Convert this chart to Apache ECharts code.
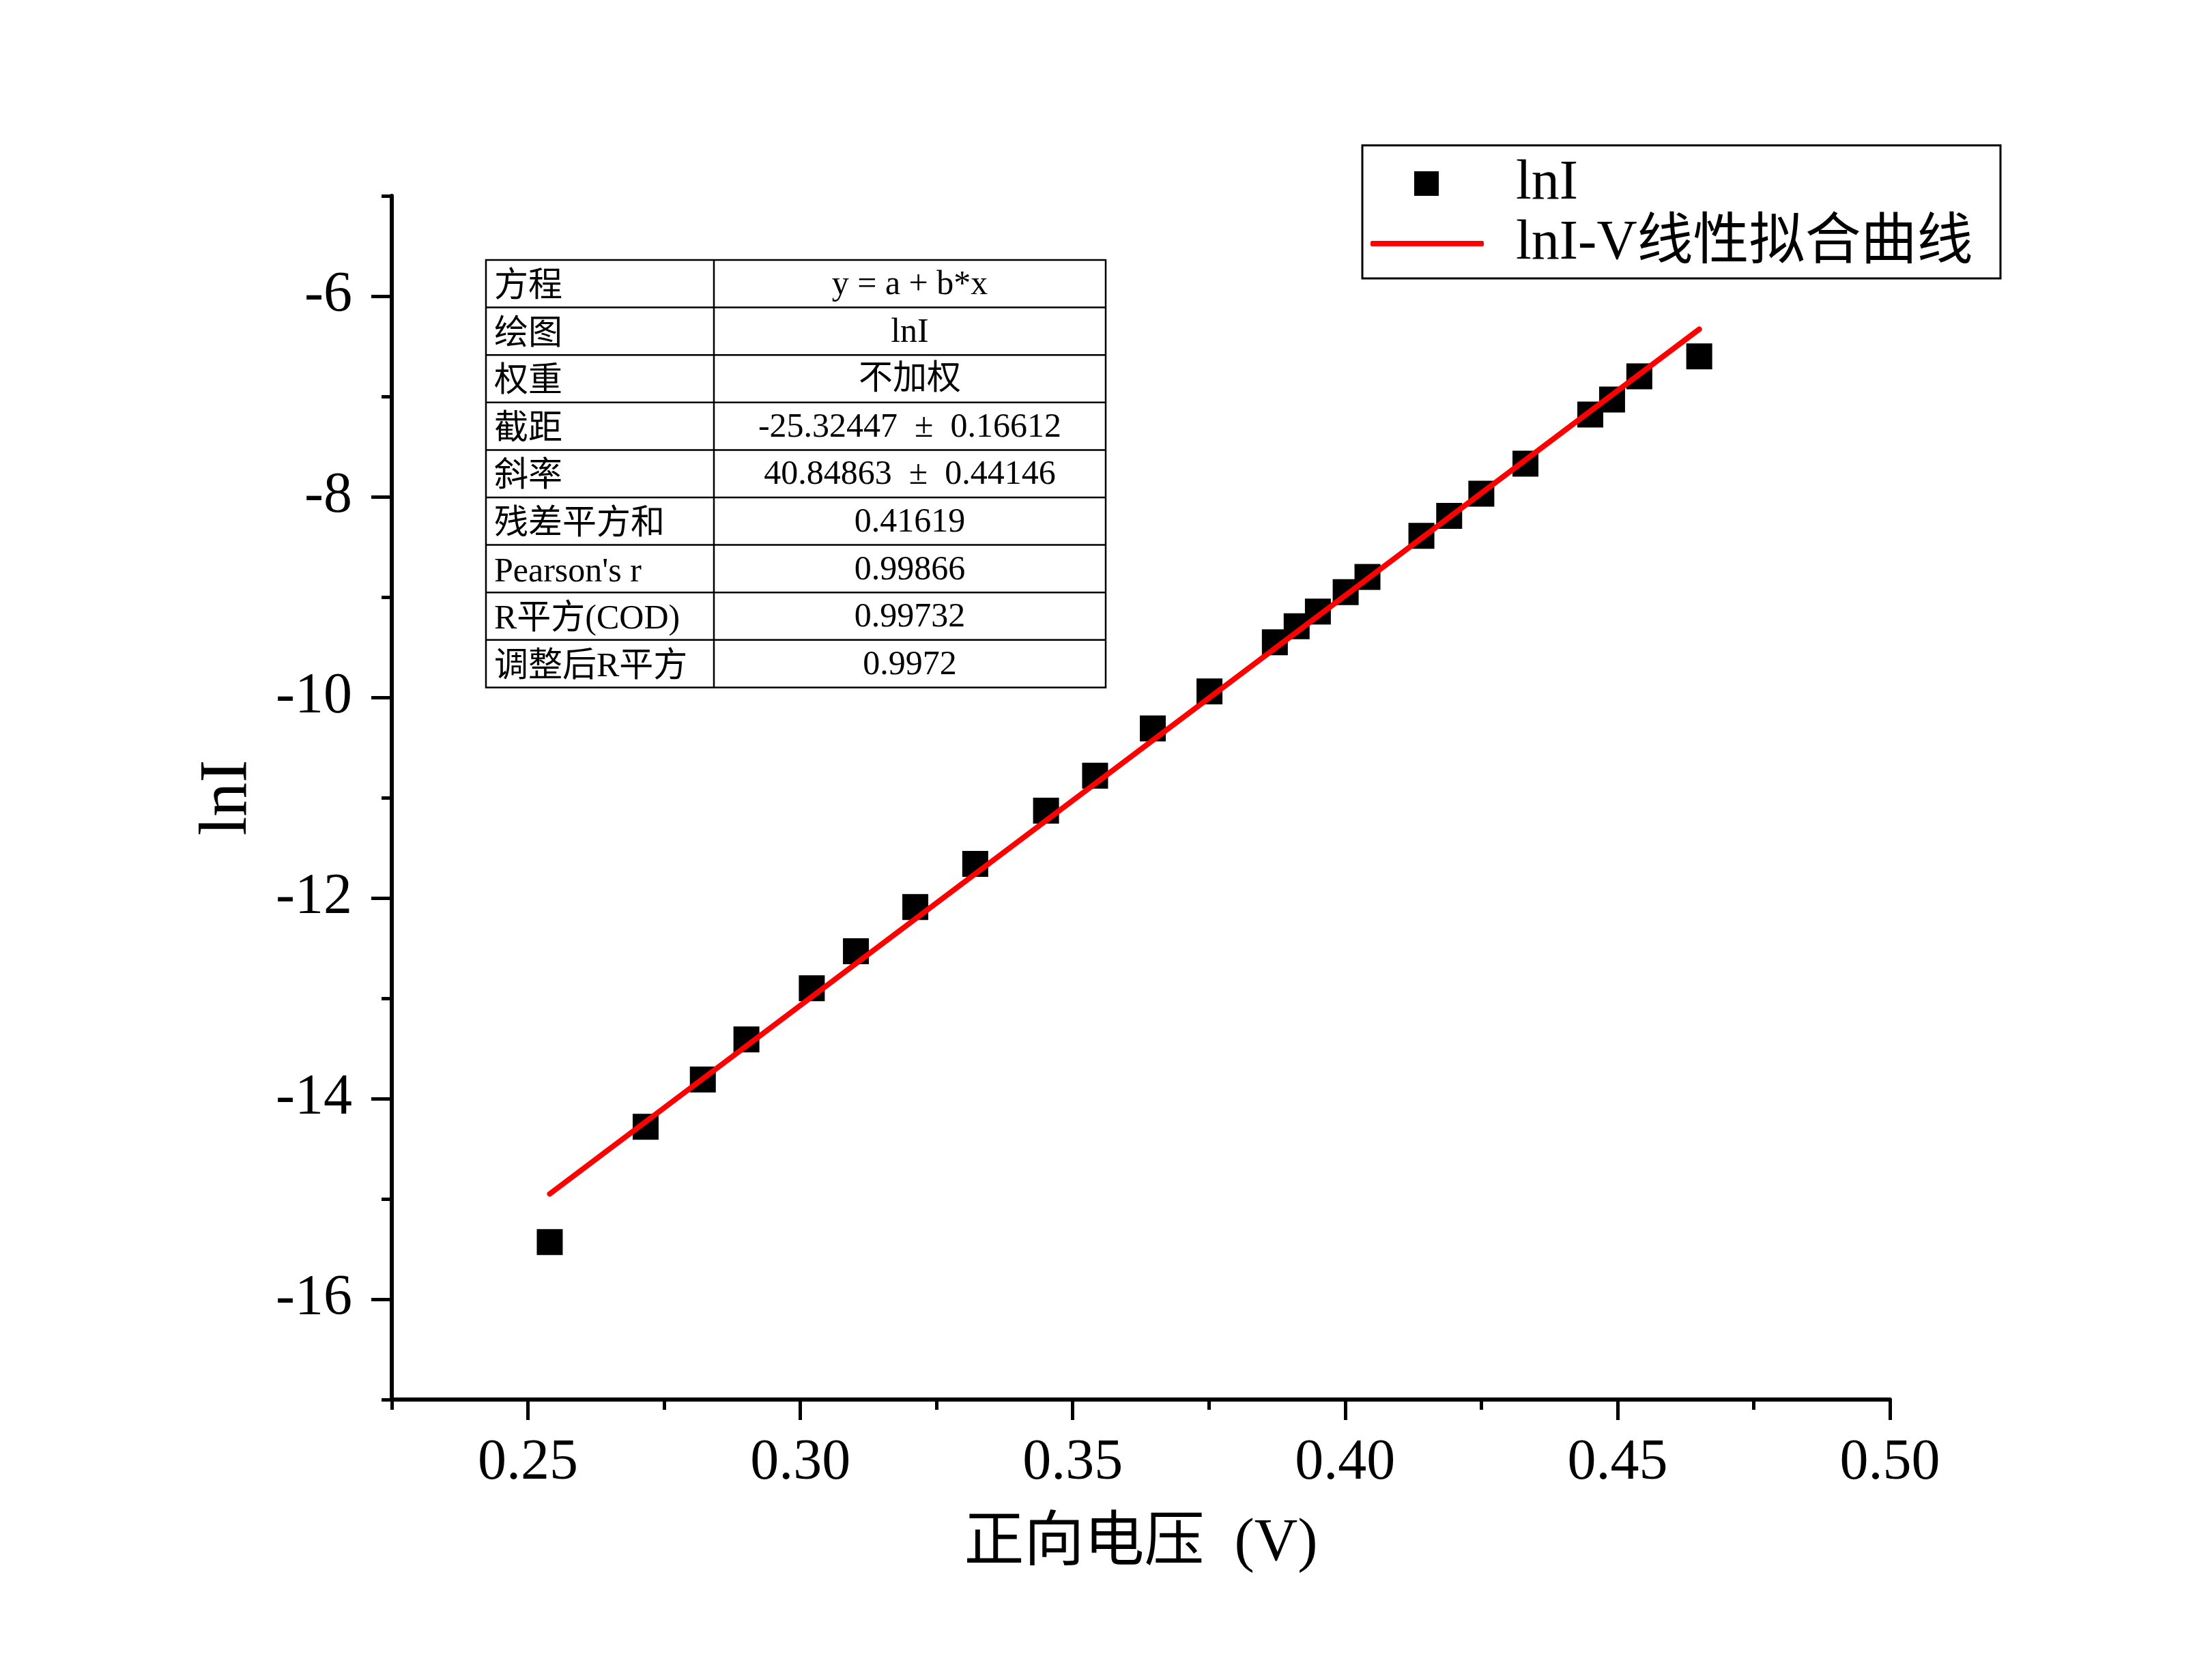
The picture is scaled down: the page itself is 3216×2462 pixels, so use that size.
<!DOCTYPE html>
<html>
<head>
<meta charset="utf-8">
<script src="https://cdn.jsdelivr.net/npm/echarts@6.0.0/dist/echarts.min.js"></script>
<style>
  html, body { margin: 0; padding: 0; background: #fff; }
  #main { width: 3216px; height: 2462px; }
</style>
</head>
<body>
<div id="main"></div>
<script>
  // 测量数据 (正向电压 V, lnI)
  var voltage = [0.254, 0.2716, 0.2821, 0.2901, 0.3021, 0.3102, 0.3211, 0.3321, 0.3451, 0.3541,
    0.3647, 0.3751, 0.3871, 0.3911, 0.3950, 0.4001, 0.4041, 0.4140, 0.4191, 0.4250,
    0.4331, 0.4450, 0.4490, 0.4540, 0.4650];
  var lnI = [-15.43, -14.28, -13.81, -13.41, -12.90, -12.53, -12.09, -11.66, -11.13, -10.78,
    -10.31, -9.94, -9.45, -9.29, -9.145, -8.95, -8.80, -8.39, -8.19, -7.97,
    -7.67, -7.18, -7.03, -6.80, -6.60];

  // 拟合直线两端
  var fitV = [0.254, 0.465];
  var fitLnI = [-14.95, -6.33];

  // 刻度
  var xMajor = [0.25, 0.30, 0.35, 0.40, 0.45, 0.50];
  var xMinor = [0.225, 0.275, 0.325, 0.375, 0.425, 0.475];
  var yMajor = [-16, -14, -12, -10, -8, -6];
  var yMinor = [-17, -15, -13, -11, -9, -7, -5];

  // 拟合结果表
  var tableLabels = ["方程", "绘图", "权重", "截距", "斜率", "残差平方和", "Pearson's r", "R平方(COD)", "调整后R平方"];
  var tableValues = ["y = a + b*x", "lnI", "不加权", "-25.32447  ±  0.16612", "40.84863  ±  0.44146",
    "0.41619", "0.99866", "0.99732", "0.9972"];

  var FONT = "'Liberation Serif', 'Noto Sans CJK SC', serif";

  function pairs(xs, ys) {
    var out = [];
    for (var i = 0; i < xs.length; i++) {
      out.push([xs[i], ys[i]]);
    }
    return out;
  }

  function buildTable() {
    var left = 712, right = 1620, top = 381, rowH = 69.6, mid = 1046;
    var els = [];
    var bottom = top + rowH * tableLabels.length;
    els.push({
      type: "rect",
      shape: { x: left, y: top, width: right - left, height: bottom - top },
      style: { fill: "none", stroke: "#000", lineWidth: 2.5 }
    });
    els.push({
      type: "line",
      shape: { x1: mid, y1: top, x2: mid, y2: bottom },
      style: { stroke: "#000", lineWidth: 2.5 }
    });
    for (var i = 0; i < tableLabels.length; i++) {
      var y = top + rowH * i;
      if (i > 0) {
        els.push({
          type: "line",
          shape: { x1: left, y1: y, x2: right, y2: y },
          style: { stroke: "#000", lineWidth: 2.5 }
        });
      }
      els.push({
        type: "text",
        style: {
          text: tableLabels[i], x: left + 12, y: y + rowH / 2 + 5,
          fontSize: 50, fontFamily: FONT, fill: "#000",
          textAlign: "left", textVerticalAlign: "middle"
        }
      });
      els.push({
        type: "text",
        style: {
          text: tableValues[i], x: (mid + right) / 2, y: y + rowH / 2 + 2,
          fontSize: 50, fontFamily: FONT, fill: "#000",
          textAlign: "center", textVerticalAlign: "middle"
        }
      });
    }
    return els;
  }

  var chart = echarts.init(document.getElementById("main"));

  var graphics = buildTable();
  graphics.push({
    type: "rect",
    shape: { x: 1996, y: 213, width: 935, height: 195 },
    style: { fill: "none", stroke: "#000", lineWidth: 3 }
  });

  chart.setOption({
    animation: false,
    backgroundColor: "#fff",
    textStyle: { fontFamily: FONT },
    grid: { left: 574, right: 447, top: 287, bottom: 411 },
    legend: [
      {
        data: [{ name: "lnI", icon: "rect" }],
        left: 2072, top: 224, padding: 0,
        itemWidth: 36, itemHeight: 36, selectedMode: false,
        itemStyle: { color: "#000", opacity: 1 },
        textStyle: { fontSize: 82, lineHeight: 90, color: "#000", fontFamily: FONT, padding: [0, 0, 0, 108] }
      },
      {
        data: [{ name: "lnI-V线性拟合曲线", icon: "roundRect" }],
        left: 2008, top: 312, padding: 0,
        itemWidth: 166, itemHeight: 8, selectedMode: false,
        itemStyle: { color: "#ff0000" },
        textStyle: { fontSize: 82, lineHeight: 90, color: "#000", fontFamily: FONT, padding: [0, 0, 0, 42] }
      }
    ],
    xAxis: [
      {
        type: "value", min: 0.225, max: 0.5,
        name: "正向电压  (V)", nameLocation: "middle", nameGap: 168,
        nameTextStyle: { fontSize: 88, color: "#000", fontFamily: FONT },
        axisLine: { show: true, onZero: false, lineStyle: { color: "#000", width: 6 } },
        axisTick: { show: true, inside: false, length: 30, customValues: xMajor, lineStyle: { color: "#000", width: 5 } },
        axisLabel: {
          show: true, margin: 52, fontSize: 84, color: "#000", fontFamily: FONT, customValues: xMajor,
          formatter: function (v) { return v.toFixed(2); }
        },
        splitLine: { show: false }
      },
      {
        type: "value", min: 0.225, max: 0.5, position: "bottom",
        axisLine: { show: false, onZero: false },
        axisTick: { show: true, inside: false, length: 15, customValues: xMinor, lineStyle: { color: "#000", width: 5 } },
        axisLabel: { show: false },
        splitLine: { show: false }
      }
    ],
    yAxis: [
      {
        type: "value", min: -17, max: -5,
        name: "lnI", nameLocation: "middle", nameGap: 190, nameRotate: 90,
        nameTextStyle: { fontSize: 100, color: "#000", fontFamily: FONT },
        axisLine: { show: true, onZero: false, lineStyle: { color: "#000", width: 6 } },
        axisTick: { show: true, inside: false, length: 30, customValues: yMajor, lineStyle: { color: "#000", width: 5 } },
        axisLabel: { show: true, margin: 58, fontSize: 84, color: "#000", fontFamily: FONT, customValues: yMajor },
        splitLine: { show: false }
      },
      {
        type: "value", min: -17, max: -5, position: "left",
        axisLine: { show: false, onZero: false },
        axisTick: { show: true, inside: false, length: 15, customValues: yMinor, lineStyle: { color: "#000", width: 5 } },
        axisLabel: { show: false },
        splitLine: { show: false }
      }
    ],
    series: [
      {
        name: "lnI",
        type: "scatter",
        xAxisIndex: 0, yAxisIndex: 0,
        symbol: "rect",
        symbolSize: 38,
        itemStyle: { color: "#000", opacity: 1 },
        data: pairs(voltage, lnI),
        z: 2
      },
      {
        name: "lnI-V线性拟合曲线",
        type: "line",
        xAxisIndex: 0, yAxisIndex: 0,
        symbol: "none",
        lineStyle: { color: "#ff0000", width: 8, cap: "round" },
        itemStyle: { color: "#ff0000" },
        data: pairs(fitV, fitLnI),
        z: 3
      }
    ],
    graphic: graphics
  });
</script>
</body>
</html>
